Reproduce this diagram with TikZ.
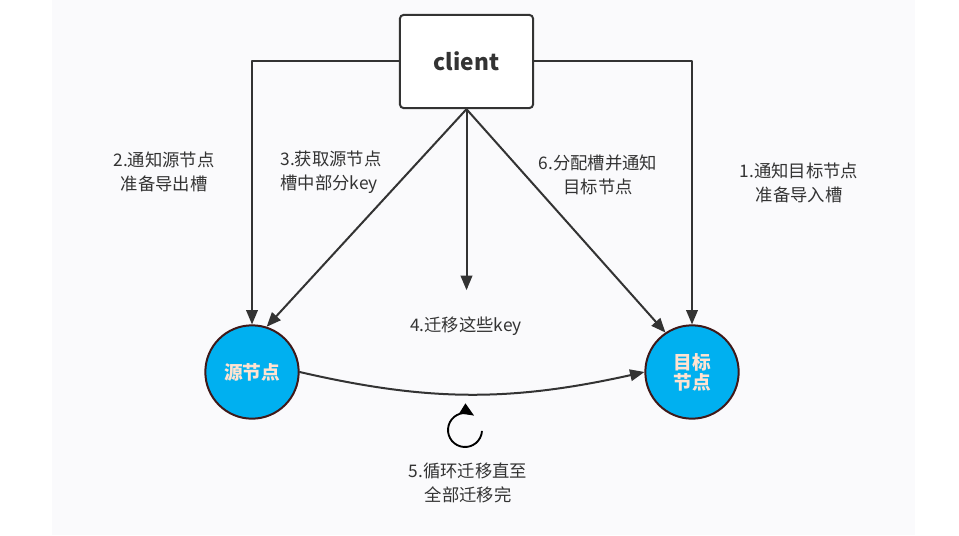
\documentclass[tikz,border=0pt]{standalone}
\usepackage{fontspec}
\setmainfont{Noto Sans CJK SC}
\usetikzlibrary{arrows}
\definecolor{uququq}{rgb}{0.2,0.2,0.2}
\definecolor{qqbbff}{rgb}{0,0.69,0.94}
\definecolor{ffeedd}{rgb}{1,0.89,0.82}
\definecolor{ttqqqq}{rgb}{0.25,0.1,0.1}
\definecolor{fafafc}{rgb}{0.98,0.98,0.99}

\begin{document}
\begin{tikzpicture}[line cap=round,line join=round,>=triangle 45,x=0.75pt,y=-0.75pt,
	every node/.style={font=\fontsize{13}{18}\selectfont,text=uququq,align=center},
	link/.style={->,color=uququq,line width=1.5pt},
	slot/.style={circle,draw=ttqqqq,line width=1.5pt,fill=qqbbff,minimum size=70pt,inner sep=0pt,text=ffeedd,font=\bfseries\fontsize{14}{15}\selectfont}]
				\useasboundingbox (0,0) rectangle (959,535);
				\fill[color=white] (0,0) rectangle (959,535);
				\fill[color=fafafc] (52,0) rectangle (915,535);
				% client and the two slots
				\node[draw=uququq,line width=1.5pt,rounded corners=3pt,fill=white,minimum width=100pt,minimum height=70pt,font=\bfseries\fontsize{17}{20}\selectfont] (client) at (466.5,61.5) {client};
				\node[slot] (src) at (252,372) {源节点};
				\node[slot] (tgt) at (692,372) {目标\\节点};
				\coordinate (keys) at (466.5,290);
				% connectors
				\draw[link] (client.west) -| (src.north);
				\draw[link] (client.east) -| (tgt.north);
				\draw[link] (client.south) -- (src.72);
				\draw[link] (client.south) -- (keys);
				\draw[link] (client.south) -- (tgt.124);
				\draw[link] (src.east) to[bend right=13] (tgt.west);
				\coordinate (loop) at (465,430);
				\draw[->,color=black,line width=1.4pt] ([shift={(5:17)}]loop) arc (5:302:17);
				% labels
				\node (notesrc) at (164,172) {2.通知源节点\\准备导出槽};
				\node[align=left] (getkeys) at (331,172) {3.获取源节点\\槽中部分key};
				\node (assign) at (598,175) {6.分配槽并通知\\目标节点};
				\node (notetgt) at (799,183) {1.通知目标节点\\准备导入槽};
				\node (movekeys) at (466,326) {4.迁移这些key};
				\node (repeat) at (468,483) {5.循环迁移直至\\全部迁移完};
				\end{tikzpicture}
\end{document}
